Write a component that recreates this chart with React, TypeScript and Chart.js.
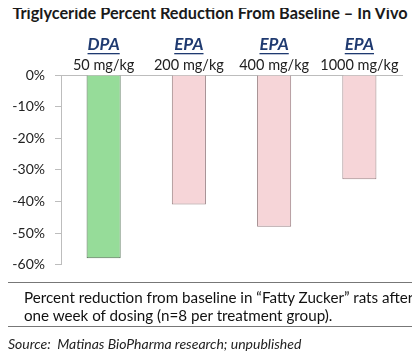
import React, { useEffect, useRef } from "react";
import { Chart, registerables } from "chart.js";

Chart.register(...registerables);

const drugs = ["DPA", "EPA", "EPA", "EPA"];
const doses = ["50 mg/kg", "200 mg/kg", "400 mg/kg", "1000 mg/kg"];
const reductions = [-58, -41, -48, -33];
const yTicks = [0, -10, -20, -30, -40, -50, -60];
const barColors = ["#96dc99", "#f6d5d8", "#f6d5d8", "#f6d5d8"];
const barBorders = ["#4f6e50", "#9b8285", "#9b8285", "#9b8285"];

const FONT = "Lato, 'Open Sans', sans-serif";

const labelPlugin = {
  id: "catLabels",
  afterDraw(chart: any) {
    const ctx = chart.ctx;
    const xs = chart.scales.x;
    ctx.save();
    ctx.textAlign = "center";
    ctx.textBaseline = "middle";
    drugs.forEach((d, i) => {
      const x = xs.getPixelForValue(i);
      ctx.font = `italic bold 17px ${FONT}`;
      ctx.fillStyle = "#1f3a70";
      ctx.fillText(d, x, 45);
      const w = ctx.measureText(d).width;
      ctx.fillRect(x - w / 2, 53, w, 1.3);
      ctx.font = `14.5px ${FONT}`;
      ctx.fillStyle = "#222";
      ctx.fillText(doses[i], x, 65);
    });
    ctx.restore();
  },
};

export default function App() {
  const ref = useRef<HTMLCanvasElement>(null);
  useEffect(() => {
    if (!ref.current) return;
    const chart = new Chart(ref.current, {
      type: "bar",
      data: {
        labels: doses,
        datasets: [
          {
            data: reductions,
            backgroundColor: barColors,
            borderColor: barBorders,
            borderWidth: 1,
            barPercentage: 0.4,
            categoryPercentage: 1,
          },
        ],
      },
      options: {
        animation: false,
        responsive: false,
        layout: { padding: { top: 75, left: 0, right: 18, bottom: 0 } },
        plugins: { legend: { display: false }, tooltip: { enabled: false } },
        scales: {
          x: {
            position: "top",
            afterFit(scale: any) {
              scale.height = 0;
            },
            ticks: { display: false },
            grid: { display: false },
            border: { display: true, color: "#bdbdbd", width: 1 },
          },
          y: {
            min: -60,
            max: 0,
            afterFit(scale: any) {
              scale.width = 61;
            },
            afterBuildTicks(scale: any) {
              scale.ticks = yTicks.map((v) => ({ value: v }));
            },
            ticks: {
              padding: 10,
              color: "#222",
              font: { family: FONT, size: 14 },
              callback: (v: any) => `${v}%`,
            },
            grid: {
              drawOnChartArea: false,
              drawTicks: true,
              tickLength: 6,
              color: "#bdbdbd",
            },
            border: { display: true, color: "#bdbdbd", width: 1 },
          },
        },
      },
      plugins: [labelPlugin],
    });
    return () => chart.destroy();
  }, []);

  return (
    <div style={{ position: "relative", margin: -8, width: 420, height: 360, fontFamily: FONT }}>
      <div
        style={{
          position: "absolute",
          left: 0,
          top: 3,
          width: 420,
          textAlign: "center",
          fontWeight: "bold",
          fontSize: 16.3,
          color: "#1a1a1a",
          whiteSpace: "nowrap",
        }}
      >
        Triglyceride Percent Reduction From Baseline – In Vivo
      </div>
      <canvas ref={ref} width={420} height={283} style={{ position: "absolute", left: 0, top: 0 }} />
      <div
        style={{
          position: "absolute",
          left: 7,
          top: 282,
          width: 409,
          height: 43,
          border: "1.5px solid #777",
          boxSizing: "content-box",
          fontSize: 15.2,
          lineHeight: "18px",
          color: "#111",
          whiteSpace: "nowrap",
        }}
      >
        <div style={{ paddingLeft: 16, paddingTop: 5 }}>
          Percent reduction from baseline in “Fatty Zucker” rats after
          <br />
          one week of dosing (n=8 per treatment group).
        </div>
      </div>
      <div
        style={{
          position: "absolute",
          left: 8,
          top: 335,
          fontSize: 14,
          fontStyle: "italic",
          color: "#222",
          whiteSpace: "nowrap",
        }}
      >
        Source:&nbsp; Matinas BioPharma research; unpublished
      </div>
    </div>
  );
}
